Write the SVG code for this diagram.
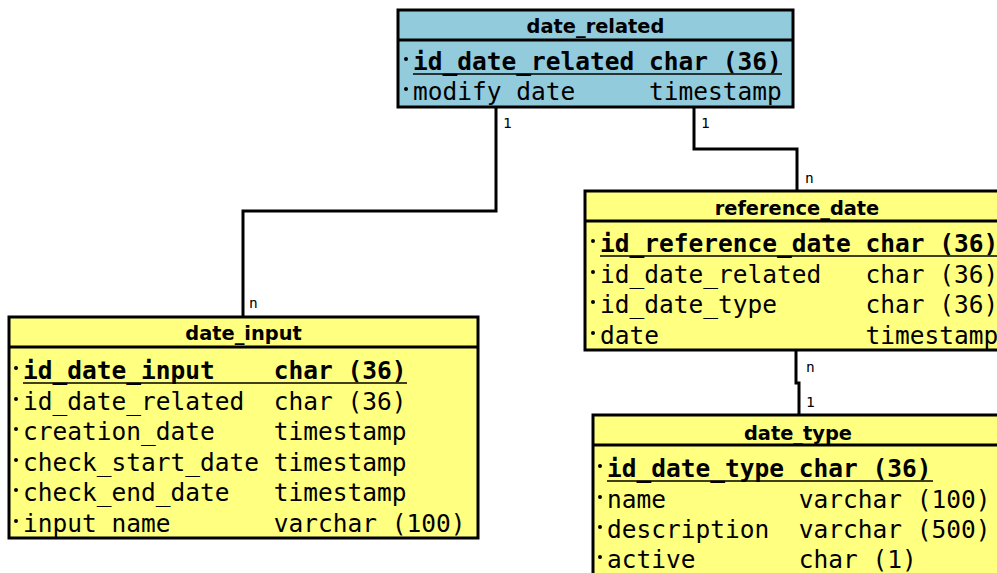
<svg xmlns="http://www.w3.org/2000/svg" width="997" height="573" viewBox="0 0 997 573">
<style>
.box{stroke:#000;stroke-width:3}
.blue{fill:#92cbdc}
.yel{fill:#ffff80}
.div{stroke:#000;stroke-width:3}
.title{font-family:"DejaVu Sans",sans-serif;font-weight:bold;font-size:19.4px;fill:#000;text-anchor:middle}
.f{font-family:"DejaVu Sans Mono",monospace;font-size:24.5px;fill:#000;white-space:pre}
.pk{font-weight:bold}
.ul{stroke:#000;stroke-width:1.6}
.dot{fill:#000}
.lbl{font-family:"DejaVu Sans Mono",monospace;font-size:14.5px;fill:#000}
.con{fill:none;stroke:#000;stroke-width:3}
</style>
<g id="connectors">
<path class="con" d="M496 107 V211 H243 V316"/>
<path class="con" d="M694 107 V149 H797 V191"/>
<path class="con" d="M796 350 V383 H799 V414"/>
<text class="lbl" x="503" y="128">1</text>
<text class="lbl" x="701" y="128">1</text>
<text class="lbl" x="805" y="183">n</text>
<text class="lbl" x="249" y="308">n</text>
<text class="lbl" x="806" y="372">n</text>
<text class="lbl" x="806" y="407">1</text>
</g>
<g id="date_related">
<rect class="box blue" x="398" y="10" width="395" height="97"/>
<line class="div" x1="398" y1="40" x2="793" y2="40"/>
<text class="title" x="595.5" y="33">date_related</text>
<circle class="dot" cx="406" cy="59" r="2"/>
<text class="f pk" x="413" y="70">id_date_related char (36)</text>
<line class="ul" x1="413" y1="74" x2="782" y2="74"/>
<circle class="dot" cx="406" cy="89" r="2"/>
<text class="f" x="413" y="100">modify date     timestamp</text>
</g>
<g id="reference_date">
<rect class="box yel" x="585" y="191" width="430" height="159"/>
<line class="div" x1="585" y1="221" x2="1015" y2="221"/>
<text class="title" x="797" y="215">reference_date</text>
<circle class="dot" cx="593" cy="241" r="2"/>
<text class="f pk" x="600" y="252">id_reference_date char (36)</text>
<line class="ul" x1="600" y1="256" x2="998" y2="256"/>
<circle class="dot" cx="593" cy="272" r="2"/>
<text class="f" x="600" y="283">id_date_related   char (36)</text>
<circle class="dot" cx="593" cy="302" r="2"/>
<text class="f" x="600" y="313">id_date_type      char (36)</text>
<circle class="dot" cx="593" cy="333" r="2"/>
<text class="f" x="600" y="344">date              timestamp</text>
</g>
<g id="date_input">
<rect class="box yel" x="9" y="317" width="469" height="221"/>
<line class="div" x1="9" y1="347" x2="478" y2="347"/>
<text class="title" x="243.5" y="340">date_input</text>
<circle class="dot" cx="16" cy="368" r="2"/>
<text class="f pk" x="23" y="379">id_date_input    char (36)</text>
<line class="ul" x1="23" y1="383" x2="407" y2="383"/>
<circle class="dot" cx="16" cy="399" r="2"/>
<text class="f" x="23" y="410">id_date_related  char (36)</text>
<circle class="dot" cx="16" cy="429" r="2"/>
<text class="f" x="23" y="440">creation_date    timestamp</text>
<circle class="dot" cx="16" cy="460" r="2"/>
<text class="f" x="23" y="471">check_start_date timestamp</text>
<circle class="dot" cx="16" cy="490" r="2"/>
<text class="f" x="23" y="501">check_end_date   timestamp</text>
<circle class="dot" cx="16" cy="521" r="2"/>
<text class="f" x="23" y="532">input name       varchar (100)</text>
</g>
<g id="date_type">
<rect class="box yel" x="593" y="415" width="420" height="170"/>
<line class="div" x1="593" y1="445" x2="1013" y2="445"/>
<text class="title" x="798" y="440">date_type</text>
<circle class="dot" cx="600" cy="466" r="2"/>
<text class="f pk" x="607" y="477">id_date_type char (36)</text>
<line class="ul" x1="607" y1="481" x2="933" y2="481"/>
<circle class="dot" cx="600" cy="497" r="2"/>
<text class="f" x="607" y="508">name         varchar (100)</text>
<circle class="dot" cx="600" cy="527" r="2"/>
<text class="f" x="607" y="538">description  varchar (500)</text>
<circle class="dot" cx="600" cy="557" r="2"/>
<text class="f" x="607" y="568">active       char (1)</text>
</g>
</svg>
